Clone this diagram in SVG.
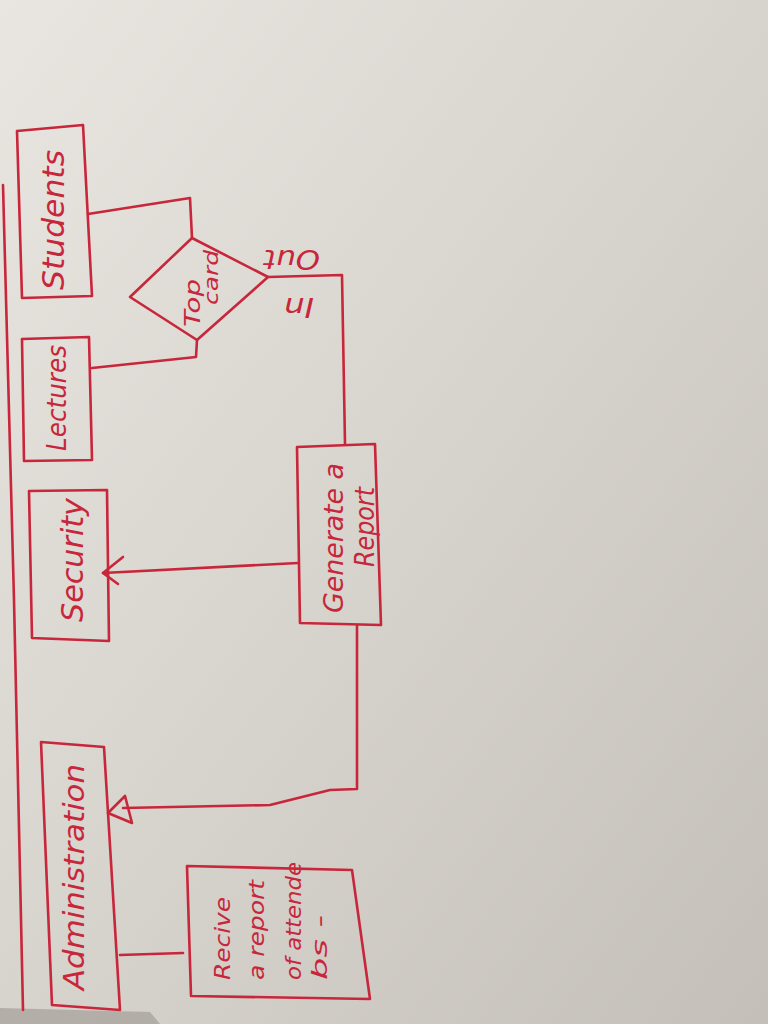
<svg xmlns="http://www.w3.org/2000/svg" width="768" height="1024" viewBox="0 0 768 1024">
<defs>
<linearGradient id="paper" x1="0" y1="0" x2="1" y2="1">
<stop offset="0" stop-color="#e9e6e1"/>
<stop offset="0.45" stop-color="#d9d5cf"/>
<stop offset="1" stop-color="#c4bfb9"/>
</linearGradient>
<style>
.ink{fill:none;stroke:#c8263a;stroke-width:2.6;stroke-linecap:round;stroke-linejoin:round}
.t{fill:#c8263a;font-family:"DejaVu Sans","Liberation Sans",sans-serif;font-style:italic}
</style>
</defs>
<rect width="768" height="1024" fill="url(#paper)"/>
<polygon points="0,1008 150,1012 160,1024 0,1024" fill="#9c9690" opacity="0.6"/>

<g id="border"><path class="ink" d="M3,185 L14,600 L23,1010"/></g>

<g id="students">
<path class="ink" d="M17,131 L83,125 L92,296 L22,298 Z"/>
<text class="t" font-size="30" textLength="140" lengthAdjust="spacingAndGlyphs" transform="translate(64,290) rotate(-90)">Students</text>
</g>

<g id="lectures">
<path class="ink" d="M22,339 L89,337 L92,460 L24,461 Z"/>
<text class="t" font-size="27" textLength="106" lengthAdjust="spacingAndGlyphs" transform="translate(66,451) rotate(-90)">Lectures</text>
</g>

<g id="security">
<path class="ink" d="M29,491 L107,490 L109,641 L32,638 Z"/>
<text class="t" font-size="30" textLength="124" lengthAdjust="spacingAndGlyphs" transform="translate(83,622) rotate(-90)">Security</text>
</g>

<g id="topcard">
<path class="ink" d="M192,238 L268,277 L197,340 L130,297 Z"/>
<text class="t" font-size="22" textLength="48" lengthAdjust="spacingAndGlyphs" transform="translate(200,327) rotate(-90)">Top</text>
<text class="t" font-size="20" textLength="55" lengthAdjust="spacingAndGlyphs" transform="translate(218,305) rotate(-90)">card</text>
</g>

<g id="generate">
<path class="ink" d="M297,447 L375,444 L381,625 L300,623 Z"/>
<text class="t" font-size="26" textLength="150" lengthAdjust="spacingAndGlyphs" transform="translate(343,613) rotate(-90)">Generate a</text>
<text class="t" font-size="26" textLength="80" lengthAdjust="spacingAndGlyphs" transform="translate(374,567) rotate(-90)">Report</text>
</g>

<g id="administration">
<path class="ink" d="M41,742 L104,747 L120,1010 L52,1005 Z"/>
<text class="t" font-size="28" textLength="226" lengthAdjust="spacingAndGlyphs" transform="translate(84,990) rotate(-90)">Administration</text>
</g>

<g id="receive">
<path class="ink" d="M187,866 L352,870 L370,999 L191,996 Z"/>
<text class="t" font-size="22" textLength="83" lengthAdjust="spacingAndGlyphs" transform="translate(230,980) rotate(-90)">Recive</text>
<text class="t" font-size="22" textLength="100" lengthAdjust="spacingAndGlyphs" transform="translate(264,980) rotate(-90)">a report</text>
<text class="t" font-size="22" textLength="118" lengthAdjust="spacingAndGlyphs" transform="translate(301,980) rotate(-90)">of attende</text>
<text class="t" font-size="22" textLength="65" lengthAdjust="spacingAndGlyphs" transform="translate(327,980) rotate(-90)">bs -</text>
</g>

<g id="connectors">
<path class="ink" d="M88,214 L190,198 L192,238"/>
<path class="ink" d="M92,368 L196,357 L197,340"/>
<path class="ink" d="M268,277 L342,275 L345,444"/>
<path class="ink" d="M298,563 L103,573"/>
<path class="ink" d="M123,557 L103,573 L118,584"/>
<path class="ink" d="M357,625 L357,789 L330,790 L270,805 L123,808"/>
<path class="ink" d="M108,813 L125,796 L132,823 Z"/>
<path class="ink" d="M120,955 L183,953"/>
<text class="t" font-size="26" text-anchor="middle" textLength="56" lengthAdjust="spacingAndGlyphs" transform="translate(292,250) rotate(180)">Out</text>
<text class="t" font-size="26" text-anchor="middle" textLength="30" lengthAdjust="spacingAndGlyphs" transform="translate(299,298) rotate(180)">In</text>
</g>
</svg>
